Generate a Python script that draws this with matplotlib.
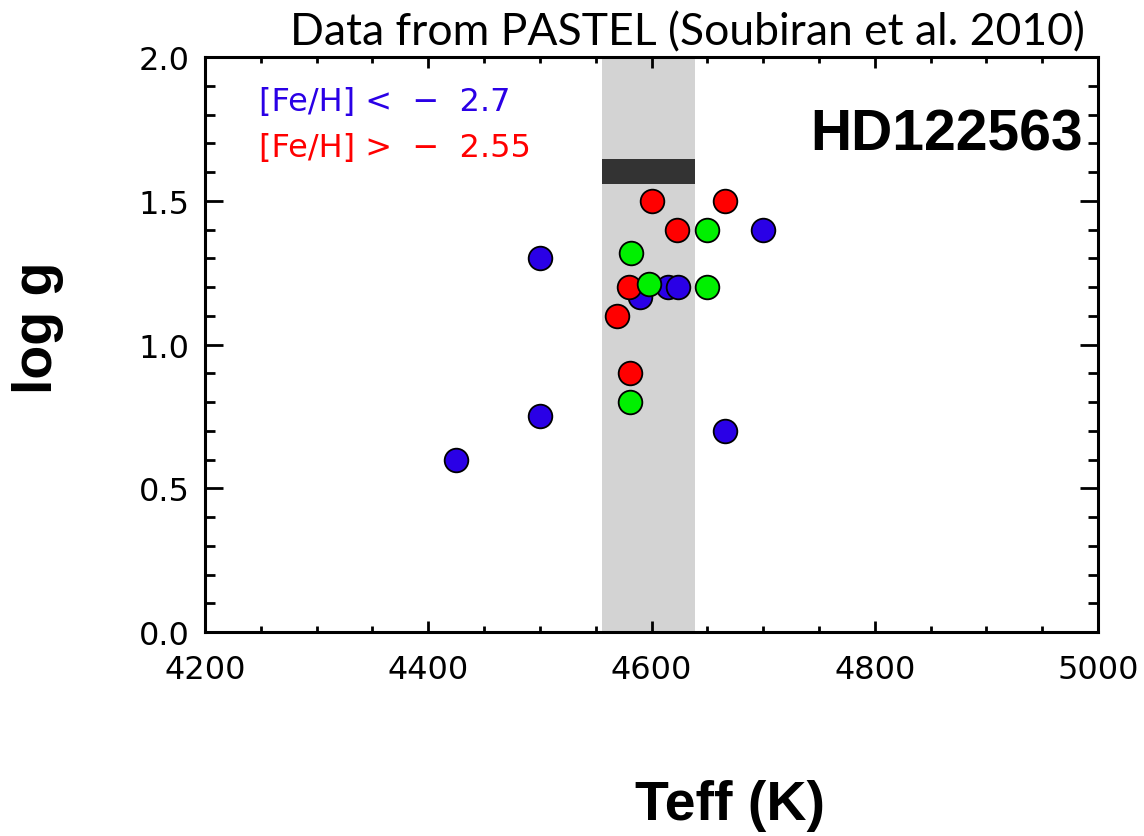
import numpy as np
import matplotlib.pyplot as plt
from matplotlib.ticker import MultipleLocator

# Teff / log g from PASTEL, split by metallicity
teff_blue = [4425, 4500, 4500, 4590, 4615, 4624, 4666, 4700]
logg_blue = [0.60, 0.75, 1.30, 1.165, 1.20, 1.20, 0.70, 1.40]

teff_green = [4581, 4582, 4598, 4650, 4650]
logg_green = [0.80, 1.32, 1.21, 1.40, 1.20]

teff_red = [4569, 4580, 4581, 4600, 4623, 4666]
logg_red = [1.10, 1.20, 0.90, 1.50, 1.40, 1.50]

# adopted Teff range and log g box for the star
teff_band = (4556, 4639)
logg_box = (1.56, 1.645)

fig = plt.figure(figsize=(11.44, 8.37), dpi=100)
ax = fig.add_axes([0.1792, 0.2437, 0.9598 - 0.1792, 0.9307 - 0.2437])

ax.axvspan(teff_band[0], teff_band[1], color='#d3d3d3', zorder=0, lw=0)
ax.fill_between(teff_band, logg_box[0], logg_box[1], color='#333333', zorder=1, lw=0)

kw = dict(s=290, edgecolors='black', linewidths=1.3, zorder=3)
ax.scatter(teff_blue, logg_blue, c='#2a00e6', **kw)
ax.scatter(teff_red, logg_red, c='#ff0000', **kw)
ax.scatter(teff_green, logg_green, c='#00f000', **kw)

ax.set_xlim(4200, 5000)
ax.set_ylim(0.0, 2.0)
ax.xaxis.set_major_locator(MultipleLocator(200))
ax.xaxis.set_minor_locator(MultipleLocator(50))
ax.yaxis.set_major_locator(MultipleLocator(0.5))
ax.yaxis.set_minor_locator(MultipleLocator(0.1))
ax.yaxis.set_major_formatter(plt.FormatStrFormatter('%.1f'))

for s in ax.spines.values():
    s.set_linewidth(2.2)
ax.tick_params(which='both', direction='in', top=True, right=True, width=2,
               labelsize=23, colors='black')
ax.tick_params(axis='x', which='major', length=8, pad=16)
ax.tick_params(axis='x', which='minor', length=4)
ax.tick_params(axis='y', which='major', length=13, pad=11)
ax.tick_params(axis='y', which='minor', length=7)

ax.text(0.06, 0.922, '[Fe/H] <  \u2212  2.7', transform=ax.transAxes, color='#2a00e6',
        fontsize=23, va='center', ha='left')
ax.text(0.06, 0.843, '[Fe/H] >  \u2212  2.55', transform=ax.transAxes, color='#ff0000',
        fontsize=23, va='center', ha='left')
ax.text(0.983, 0.866, 'HD122563', transform=ax.transAxes, ha='right', va='center',
        fontsize=41, fontweight='bold', family='Liberation Sans')

fig.text(1085 / 1144, 1 - 33 / 837, 'Data from PASTEL (Soubiran et al. 2010)',
         ha='right', va='center', fontsize=32, family='Lato')
fig.text(38 / 1144, 1 - 328 / 837, 'log g', rotation=90, ha='center', va='center',
         fontsize=40, fontweight='bold', family='Liberation Sans')
fig.text(730 / 1144, 1 - 806 / 837, 'Teff (K)', ha='center', va='center',
         fontsize=40, fontweight='bold', family='Liberation Sans')

fig.savefig('out.png', dpi=100)
